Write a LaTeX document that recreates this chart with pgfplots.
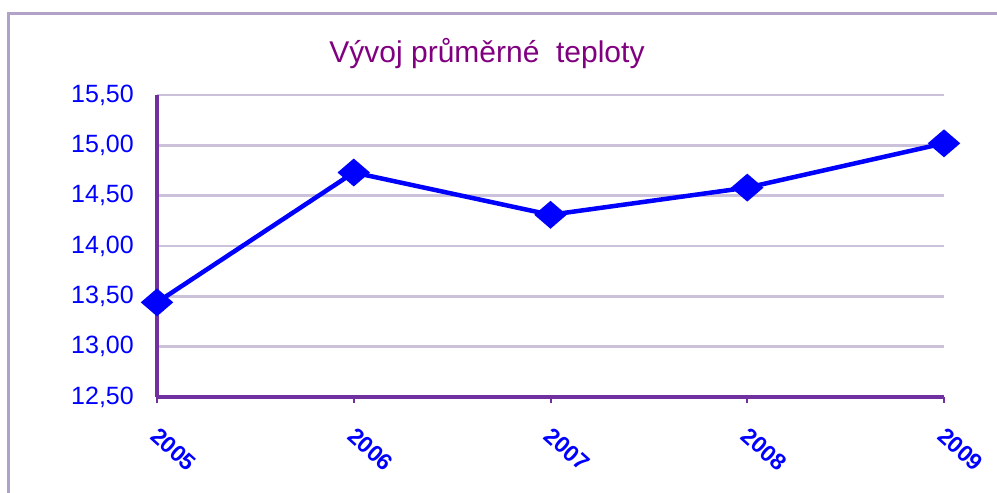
\documentclass[border=0pt]{standalone}
\usepackage{fontspec}
\setmainfont{Liberation Sans}
\usepackage{pgfplots}
\pgfplotsset{compat=1.18}
\definecolor{axpurple}{HTML}{7030A0}
\definecolor{gridpurple}{HTML}{CCC1DA}
\definecolor{framepurple}{HTML}{B3A2C7}
\definecolor{titlepurple}{HTML}{800080}
\begin{document}
\begin{tikzpicture}[x=1pt,y=1pt]
\path[use as bounding box] (0,0) rectangle (997,493);
\draw[framepurple, line width=3pt] (8,0) -- (8,479) -- (997,479);
\node[titlepurple, font=\fontsize{30}{34}\selectfont] at (487,439) {Vývoj průměrné\ \ teploty};
\begin{axis}[
  at={(157pt,96pt)}, anchor=south west,
  scale only axis, width=787pt, height=302pt,
  xmin=0, xmax=4, ymin=12.5, ymax=15.5,
  xtick={0,1,2,3,4},
  xticklabels={\textbf{2005},\textbf{2006},\textbf{2007},\textbf{2008},\textbf{2009}},
  ytick={12.5,13,13.5,14,14.5,15,15.5},
  axis x line*=bottom, axis y line*=left,
  axis line style={axpurple, line width=3.5pt, -},
  ymajorgrids, grid style={gridpurple, line width=2.5pt},
  major y tick style={draw=none},
  major x tick style={axpurple, line width=2pt},
  xtick align=outside, major tick length=6pt,
  /pgf/number format/assume math mode=true,
  yticklabel={\pgfmathprintnumber[fixed, fixed zerofill, precision=2, use comma]{\tick}},
  yticklabel style={blue, font=\fontsize{25}{28}\selectfont, anchor=east, inner sep=0pt, xshift=-23pt},
  xticklabel style={blue, font=\fontsize{23}{26}\selectfont, xshift=3pt, yshift=-23pt, rotate=-42, anchor=north west, inner sep=0pt},
  clip=false,
]
\addplot[blue, line width=4.5pt, mark=diamond*, mark size=11pt, mark options={xscale=1.55, solid}]
  coordinates {(0,13.44) (1,14.73) (2,14.31) (3,14.58) (4,15.02)};
\end{axis}
\end{tikzpicture}
\end{document}
